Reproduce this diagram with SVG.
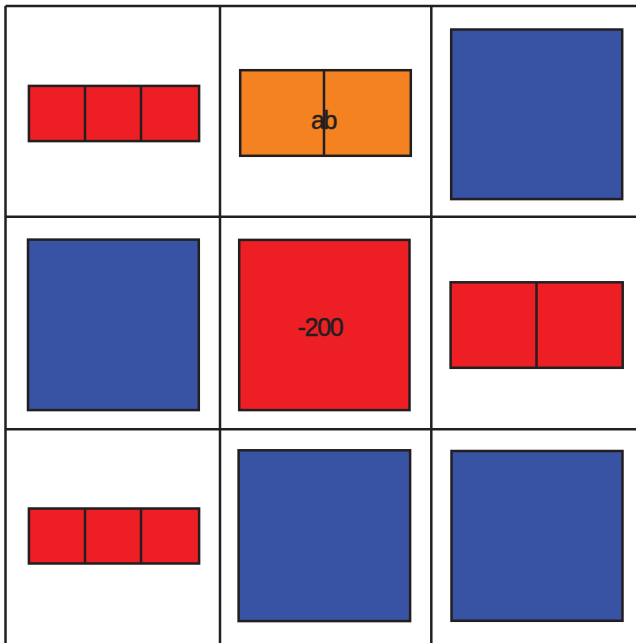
<svg xmlns="http://www.w3.org/2000/svg" width="636" height="643" viewBox="0 0 636 643">
  <style>
    .grid { stroke: #231f20; stroke-width: 2.5; fill: none; }
    .tile { stroke: #231f20; stroke-width: 2.5; }
    .red { fill: #ed1f24; }
    .orange { fill: #f58220; }
    .blue { fill: #3953a4; }
    .div { stroke: #231f20; stroke-width: 2.5; }
    .lbl { font-family: "Liberation Sans", Arial, sans-serif; font-size: 25px; fill: #231f20; stroke: #231f20; stroke-width: 0.5; text-anchor: middle; letter-spacing: -1.3px; }
  </style>
  <rect width="636" height="643" fill="#ffffff"/>
  <g id="grid">
    <line class="grid" x1="5.5" y1="6" x2="636" y2="6"/>
    <line class="grid" x1="5.5" y1="216.8" x2="636" y2="216.8"/>
    <line class="grid" x1="5.5" y1="429.3" x2="636" y2="429.3"/>
    <line class="grid" x1="5.5" y1="6" x2="5.5" y2="643"/>
    <line class="grid" x1="220" y1="6" x2="220" y2="643"/>
    <line class="grid" x1="431.3" y1="6" x2="431.3" y2="643"/>
  </g>
  <g id="r1c1">
    <rect class="tile red" x="28.9" y="85.9" width="170.2" height="55.2"/>
    <line class="div" x1="85" y1="85.9" x2="85" y2="141.1"/>
    <line class="div" x1="141" y1="85.9" x2="141" y2="141.1"/>
  </g>
  <g id="r1c2">
    <rect class="tile orange" x="240.2" y="70.2" width="170.6" height="85.6"/>
    <line class="div" x1="324" y1="70.2" x2="324" y2="155.8"/>
    <text class="lbl" x="323.5" y="128.5">ab</text>
  </g>
  <g id="r1c3">
    <rect class="tile blue" x="451.2" y="29.5" width="171" height="169.6"/>
  </g>
  <g id="r2c1">
    <rect class="tile blue" x="28" y="239.6" width="170.8" height="170.5"/>
  </g>
  <g id="r2c2">
    <rect class="tile red" x="239.2" y="239.9" width="170.3" height="170.2"/>
    <text class="lbl" x="320" y="335.5">-200</text>
  </g>
  <g id="r2c3">
    <rect class="tile red" x="450.6" y="282.3" width="172.1" height="85.5"/>
    <line class="div" x1="536.5" y1="282.3" x2="536.5" y2="367.8"/>
  </g>
  <g id="r3c1">
    <rect class="tile red" x="28.9" y="508.5" width="170.2" height="55"/>
    <line class="div" x1="85" y1="508.5" x2="85" y2="563.5"/>
    <line class="div" x1="141" y1="508.5" x2="141" y2="563.5"/>
  </g>
  <g id="r3c2">
    <rect class="tile blue" x="238.6" y="450.3" width="171.5" height="170.8"/>
  </g>
  <g id="r3c3">
    <rect class="tile blue" x="451.5" y="451" width="171" height="169.8"/>
  </g>
</svg>
